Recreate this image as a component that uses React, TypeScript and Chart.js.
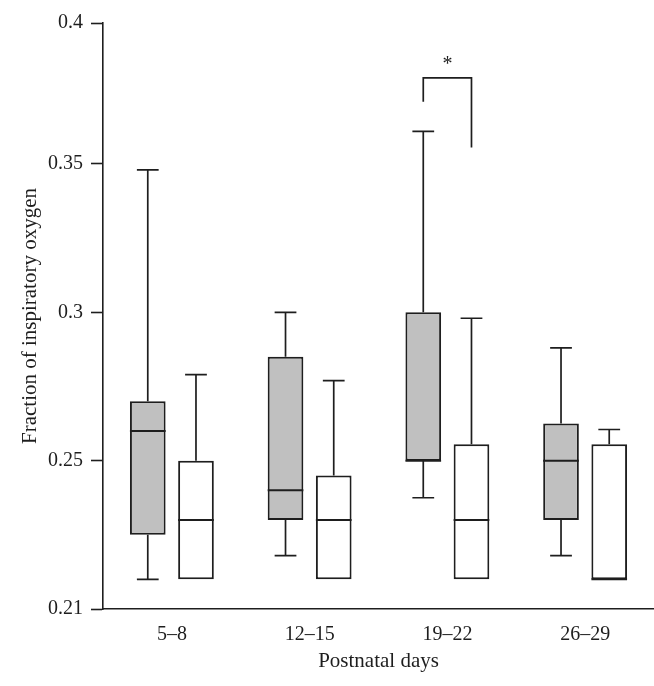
import React, { useEffect, useRef } from "react";
import { Chart, registerables } from "chart.js";

Chart.register(...registerables);

// ---- data ----
const categories = ["5–8", "12–15", "19–22", "26–29"];

const grayMin = [0.21, 0.218, 0.2375, 0.218];
const grayQ1 = [0.225, 0.23, 0.25, 0.23];
const grayMedian = [0.26, 0.24, 0.25, 0.25];
const grayQ3 = [0.27, 0.285, 0.3, 0.2625];
const grayMax = [0.348, 0.3, 0.361, 0.288];

const whiteMin = [0.21, 0.21, 0.21, 0.21];
const whiteQ1 = [0.21, 0.21, 0.21, 0.21];
const whiteMedian = [0.23, 0.23, 0.23, 0.21];
const whiteQ3 = [0.25, 0.245, 0.2555, 0.2555];
const whiteMax = [0.279, 0.277, 0.298, 0.2605];

const yTickValues = [0.2, 0.25, 0.3, 0.35, 0.3975];
const yTickLabels = ["0.21", "0.25", "0.3", "0.35", "0.4"];
const yMin = 0.2;
const yMax = 0.3975;

// significance bracket (category index, values)
const sigCategory = 2;
const sigLeftBottom = 0.371;
const sigTop = 0.379;
const sigRightBottom = 0.3555;
const sigStarY = 0.3815;
const sigLabel = "*";

const stats = [
  { min: grayMin, q1: grayQ1, med: grayMedian, q3: grayQ3, max: grayMax },
  { min: whiteMin, q1: whiteQ1, med: whiteMedian, q3: whiteQ3, max: whiteMax },
];

const LINE = "#1e1e1e";
const FONT = "'Liberation Serif', 'DejaVu Serif', serif";

const boxPlugin = {
  id: "boxWhiskers",
  afterDatasetsDraw(chart: any) {
    const ctx = chart.ctx;
    const ys = chart.scales.y;
    const centers: number[][] = [];
    chart.data.datasets.forEach((_ds: any, di: number) => {
      const meta = chart.getDatasetMeta(di);
      const st = stats[di];
      centers[di] = [];
      meta.data.forEach((bar: any, i: number) => {
        const { x, width } = bar.getProps(["x", "width"], true);
        centers[di][i] = x;
        const pMax = ys.getPixelForValue(st.max[i]);
        const pQ3 = ys.getPixelForValue(st.q3[i]);
        const pQ1 = ys.getPixelForValue(st.q1[i]);
        const pMin = ys.getPixelForValue(st.min[i]);
        const pMed = ys.getPixelForValue(st.med[i]);
        const cap = width * 0.61;
        ctx.save();
        ctx.strokeStyle = LINE;
        ctx.lineWidth = 1.7;
        ctx.beginPath();
        if (st.max[i] > st.q3[i]) {
          ctx.moveTo(x, pQ3);
          ctx.lineTo(x, pMax);
          ctx.moveTo(x - cap / 2, pMax);
          ctx.lineTo(x + cap / 2, pMax);
        }
        if (st.min[i] < st.q1[i]) {
          ctx.moveTo(x, pQ1);
          ctx.lineTo(x, pMin);
          ctx.moveTo(x - cap / 2, pMin);
          ctx.lineTo(x + cap / 2, pMin);
        }
        ctx.stroke();
        ctx.lineWidth = 2;
        ctx.beginPath();
        ctx.moveTo(x - width / 2, pMed);
        ctx.lineTo(x + width / 2, pMed);
        ctx.stroke();
        ctx.restore();
      });
    });
    // significance bracket
    const xl = centers[0][sigCategory];
    const xr = centers[1][sigCategory];
    ctx.save();
    ctx.strokeStyle = LINE;
    ctx.lineWidth = 1.7;
    ctx.beginPath();
    ctx.moveTo(xl, ys.getPixelForValue(sigLeftBottom));
    ctx.lineTo(xl, ys.getPixelForValue(sigTop));
    ctx.lineTo(xr, ys.getPixelForValue(sigTop));
    ctx.lineTo(xr, ys.getPixelForValue(sigRightBottom));
    ctx.stroke();
    ctx.fillStyle = LINE;
    ctx.font = `20px ${FONT}`;
    ctx.textAlign = "center";
    ctx.textBaseline = "alphabetic";
    ctx.fillText(sigLabel, (xl + xr) / 2, ys.getPixelForValue(sigStarY));
    ctx.restore();
  },
};

export default function App() {
  const ref = useRef<HTMLCanvasElement>(null);
  useEffect(() => {
    document.body.style.margin = "0";
    const chart = new Chart(ref.current!, {
      type: "bar",
      data: {
        labels: categories,
        datasets: [
          {
            label: "Group 1",
            data: grayQ1.map((v, i) => [v, grayQ3[i]]) as any,
            backgroundColor: "#c0c0c0",
            borderColor: LINE,
            borderWidth: 2,
            borderSkipped: false,
          },
          {
            label: "Group 2",
            data: whiteQ1.map((v, i) => [v, whiteQ3[i]]) as any,
            backgroundColor: "#ffffff",
            borderColor: LINE,
            borderWidth: 2,
            borderSkipped: false,
          },
        ],
      },
      options: {
        responsive: false,
        animation: false,
        devicePixelRatio: 1,
        categoryPercentage: 0.7,
        barPercentage: 0.74,
        layout: { padding: { top: 23, right: 0, bottom: 0, left: 0 } },
        plugins: { legend: { display: false }, tooltip: { enabled: false } },
        scales: {
          x: {
            grid: { display: false },
            border: { display: true, color: LINE, width: 1.6 },
            ticks: { color: LINE, padding: 6, font: { family: FONT, size: 20 } },
            title: {
              display: true,
              text: "Postnatal days",
              color: LINE,
              font: { family: FONT, size: 21 },
              padding: { top: 0, bottom: 12 },
            },
            afterFit: (s: any) => {
              s.height = 77;
            },
          },
          y: {
            min: yMin,
            max: yMax,
            afterBuildTicks: (s: any) => {
              s.ticks = yTickValues.map((v) => ({ value: v }));
            },
            grid: {
              drawOnChartArea: false,
              drawTicks: true,
              tickLength: 12,
              tickColor: LINE,
              tickWidth: 1.6,
            },
            border: { display: true, color: LINE, width: 1.6 },
            ticks: {
              color: LINE,
              padding: 8,
              font: { family: FONT, size: 20 },
              callback: (_v: any, i: number) => yTickLabels[i],
            },
            title: {
              display: true,
              text: "Fraction of inspiratory oxygen",
              color: LINE,
              font: { family: FONT, size: 21 },
              padding: { top: 18, bottom: 0 },
            },
            afterFit: (s: any) => {
              s.width = 103;
            },
          },
        },
      },
      plugins: [boxPlugin],
    });
    return () => chart.destroy();
  }, []);
  return (
    <div style={{ position: "fixed", left: 0, top: 0, width: 654, height: 686, background: "#fff" }}>
      <canvas ref={ref} width={654} height={686} />
    </div>
  );
}
